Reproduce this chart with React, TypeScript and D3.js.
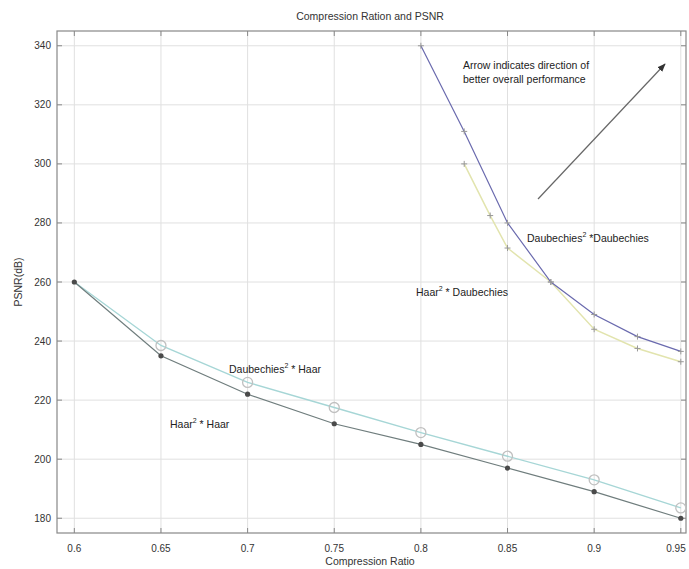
import React from 'react';
import * as d3 from 'd3';

const W = 689;
const H = 569;
const M = { left: 57, right: 686, top: 31, bottom: 533 };

const xTicks = [0.6, 0.65, 0.7, 0.75, 0.8, 0.85, 0.9, 0.95];
const xTickLabels = ['0.6', '0.65', '0.7', '0.75', '0.8', '0.85', '0.9', '0.95'];
const yTicks = [180, 200, 220, 240, 260, 280, 300, 320, 340];

// Haar^2 * Haar
const haarHaarX = [0.6, 0.65, 0.7, 0.75, 0.8, 0.85, 0.9, 0.95];
const haarHaarY = [260, 235, 222, 212, 205, 197, 189, 180];
// Daubechies^2 * Haar
const daubHaarX = [0.6, 0.65, 0.7, 0.75, 0.8, 0.85, 0.9, 0.95];
const daubHaarY = [260, 238.5, 226, 217.5, 209, 201, 193, 183.5];
// Daubechies^2 * Daubechies
const daubDaubX = [0.8, 0.825, 0.85, 0.875, 0.9, 0.925, 0.95];
const daubDaubY = [340, 311, 280, 260, 249, 241.5, 236.5];
// Haar^2 * Daubechies
const haarDaubX = [0.825, 0.84, 0.85, 0.875, 0.9, 0.925, 0.95];
const haarDaubY = [300, 282.5, 271.5, 260, 244, 237.5, 233];

const x = d3.scaleLinear().domain([0.59, 0.953]).range([M.left, M.right]);
const y = d3.scaleLinear().domain([175, 345]).range([M.bottom, M.top]);

const line = d3
  .line<[number, number]>()
  .x(d => x(d[0]))
  .y(d => y(d[1]));

const zip = (xs: number[], ys: number[]) => xs.map((v, i) => [v, ys[i]] as [number, number]);

const font = 'Arial, "Liberation Sans", sans-serif';

const Label = ({ px, py, a, b }: { px: number; py: number; a: string; b: string }) => (
  <text x={px} y={py} fontSize={10.5} fill="#222" fontFamily={font}>
    {a}
    <tspan dy={-5} fontSize={7}>2</tspan>
    <tspan dy={5}>{b}</tspan>
  </text>
);

export default function App() {
  const hh = zip(haarHaarX, haarHaarY);
  const dh = zip(daubHaarX, daubHaarY);
  const dd = zip(daubDaubX, daubDaubY);
  const hd = zip(haarDaubX, haarDaubY);

  return (
    <div style={{ position: 'absolute', left: 0, top: 0 }}>
      <svg width={W} height={H} style={{ display: 'block', background: '#fff' }}>
        <defs>
          <marker id="ah" viewBox="0 0 10 10" refX={9} refY={5} markerWidth={7} markerHeight={7} orient="auto">
            <path d="M0,1 L10,5 L0,9 z" fill="#333" />
          </marker>
        </defs>

        {/* grid */}
        <g stroke="#e0e0e0" strokeWidth={1}>
          {xTicks.map(t => (
            <line key={'gx' + t} x1={x(t)} x2={x(t)} y1={M.top} y2={M.bottom} />
          ))}
          {yTicks.map(t => (
            <line key={'gy' + t} x1={M.left} x2={M.right} y1={y(t)} y2={y(t)} />
          ))}
        </g>

        {/* frame and ticks */}
        <rect x={M.left} y={M.top} width={M.right - M.left} height={M.bottom - M.top} fill="none" stroke="#888" strokeWidth={1.2} />
        <g stroke="#888">
          {xTicks.map(t => (
            <g key={'tx' + t}>
              <line x1={x(t)} x2={x(t)} y1={M.bottom} y2={M.bottom - 5} />
              <line x1={x(t)} x2={x(t)} y1={M.top} y2={M.top + 5} />
            </g>
          ))}
          {yTicks.map(t => (
            <g key={'ty' + t}>
              <line x1={M.left} x2={M.left + 5} y1={y(t)} y2={y(t)} />
              <line x1={M.right} x2={M.right - 5} y1={y(t)} y2={y(t)} />
            </g>
          ))}
        </g>

        <g fontSize={10} fill="#333" fontFamily={font}>
          {xTicks.map((t, i) => (
            <text key={'lx' + t} x={Math.min(x(t), 676)} y={552} textAnchor="middle">
              {xTickLabels[i]}
            </text>
          ))}
          {yTicks.map(t => (
            <text key={'ly' + t} x={51} y={y(t) + 3.5} textAnchor="end">
              {t}
            </text>
          ))}
        </g>

        <text x={370} y={20} textAnchor="middle" fontSize={10.5} fill="#333" fontFamily={font}>
          Compression Ration and PSNR
        </text>
        <text x={370} y={565} textAnchor="middle" fontSize={10.5} fill="#333" fontFamily={font}>
          Compression Ratio
        </text>
        <text transform={`translate(22,${282}) rotate(-90)`} textAnchor="middle" fontSize={10.5} fill="#333" fontFamily={font}>
          PSNR(dB)
        </text>

        {/* series */}
        <path d={line(dh) ?? ''} fill="none" stroke="#a6d6d6" strokeWidth={1.4} />
        <path d={line(hh) ?? ''} fill="none" stroke="#6f7d7d" strokeWidth={1.2} />
        <path d={line(hd) ?? ''} fill="none" stroke="#e2e4ae" strokeWidth={1.5} />
        <path d={line(dd) ?? ''} fill="none" stroke="#6a6aae" strokeWidth={1.2} />

        {dh.slice(1).map((d, i) => (
          <circle key={'mdh' + i} cx={x(d[0])} cy={y(d[1])} r={5} fill="none" stroke="#c0c0c0" strokeWidth={1.3} />
        ))}
        {hh.map((d, i) => (
          <circle key={'mhh' + i} cx={x(d[0])} cy={y(d[1])} r={2.6} fill="#4a4a4a" />
        ))}
        {dd.concat(hd).map((d, i) => (
          <g key={'mp' + i} stroke="#999" strokeWidth={1}>
            <line x1={x(d[0]) - 3} x2={x(d[0]) + 3} y1={y(d[1])} y2={y(d[1])} />
            <line x1={x(d[0])} x2={x(d[0])} y1={y(d[1]) - 3} y2={y(d[1]) + 3} />
          </g>
        ))}

        {/* annotations */}
        <text x={463} y={69} fontSize={10.5} fill="#222" fontFamily={font}>Arrow indicates direction of</text>
        <text x={463} y={83} fontSize={10.5} fill="#222" fontFamily={font}>better overall performance</text>
        <line x1={538} y1={199} x2={665} y2={64} stroke="#666" strokeWidth={1.2} markerEnd="url(#ah)" />

        <Label px={527} py={242} a="Daubechies" b=" *Daubechies" />
        <Label px={416} py={296} a="Haar" b=" * Daubechies" />
        <Label px={229} py={373} a="Daubechies" b=" * Haar" />
        <Label px={170} py={428} a="Haar" b=" * Haar" />
      </svg>
    </div>
  );
}
